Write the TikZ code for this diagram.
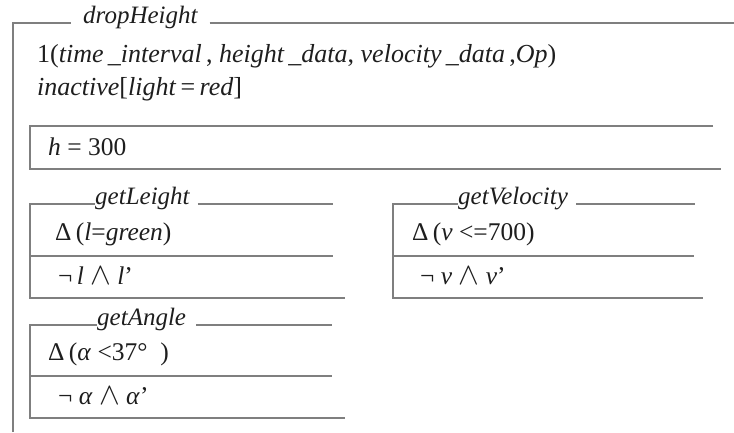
\documentclass[tikz,border=0pt]{standalone}
\usepackage{fontspec}
\setmainfont{Liberation Serif}
\definecolor{linegray}{HTML}{7F7F7F}
\definecolor{ink}{HTML}{1E1E1E}
\newcommand{\andsym}{\ \scalebox{1.25}{$\wedge$}\ }
\begin{document}
\begin{tikzpicture}[x=1pt,y=-1pt,
  rule/.style={draw=linegray, line width=1.4pt},
  txt/.style={anchor=base west, inner sep=0pt, text=ink, font=\fontsize{25.5}{30}\selectfont},
  bigtxt/.style={txt, font=\fontsize{26}{30}\selectfont},
  ttl/.style={txt, font=\fontsize{25}{30}\selectfont\itshape}]
\useasboundingbox (0,0) rectangle (734,432);
\fill[white] (0,0) rectangle (734,432);
% outer schema
\coordinate (oTL) at (13,23);
\coordinate (oBL) at (13,432);
\coordinate (oTR) at (734,23);
\node[ttl] (tD) at (83,23) {dropHeight};
\draw[rule] (oBL) -- (oTL) -- ([xshift=-12pt]tD.base west);
\draw[rule] ([xshift=12pt]tD.base east) -- (oTR);
\node[bigtxt] (p1) at (37,62) {1(\textit{time\,\_interval}\,, \textit{height\,\_data}, \textit{velocity\,\_data}\,,\textit{Op})};
\node[bigtxt] (p2) at (37,95) {\textit{inactive}[\textit{light}\,=\,\textit{red}]};
% h box
\coordinate (hTL) at (30,126);
\coordinate (hTR) at (713,126);
\coordinate (hBL) at (30,169);
\coordinate (hBR) at (721,169);
\draw[rule] (hTR) -- (hTL) -- (hBL) -- (hBR);
\node[txt] (h) at (48,155) {\textit{h} = 300};
% getLeight
\node[ttl] (tL) at (95,204) {getLeight};
\coordinate (L1) at (30,204);
\coordinate (L2) at (333,204);
\coordinate (L3) at (30,256);
\coordinate (L4) at (333,256);
\coordinate (L5) at (30,298);
\coordinate (L6) at (345,298);
\draw[rule] (tL.base west) -- (L1) -- (L5) -- (L6);
\draw[rule] ([xshift=8pt]tL.base east) -- (L2);
\draw[rule] (L3) -- (L4);
\node[txt] (dL) at (55,240) {Δ\,(\textit{l}=\textit{green})};
\node[txt] (nL) at (58,284) {¬\,\textit{l}\andsym\textit{l}’};
% getVelocity
\node[ttl] (tV) at (458,204) {getVelocity};
\coordinate (V1) at (393,204);
\coordinate (V2) at (695,204);
\coordinate (V3) at (393,256);
\coordinate (V4) at (694,256);
\coordinate (V5) at (393,298);
\coordinate (V6) at (703,298);
\draw[rule] (tV.base west) -- (V1) -- (V5) -- (V6);
\draw[rule] ([xshift=8pt]tV.base east) -- (V2);
\draw[rule] (V3) -- (V4);
\node[txt] (dV) at (412,240) {Δ\,(\textit{v} <=700)};
\node[txt] (nV) at (420,284) {¬\ \textit{v}\andsym\textit{v}’};
% getAngle
\node[ttl] (tA) at (97,325) {getAngle};
\coordinate (A1) at (30,325);
\coordinate (A2) at (332,325);
\coordinate (A3) at (30,376);
\coordinate (A4) at (332,376);
\coordinate (A5) at (30,418);
\coordinate (A6) at (345,418);
\draw[rule] (tA.base west) -- (A1) -- (A5) -- (A6);
\draw[rule] ([xshift=10pt]tA.base east) -- (A2);
\draw[rule] (A3) -- (A4);
\node[txt] (dA) at (48,360) {Δ\,(\textit{α} <37°\ \ )};
\node[txt] (nA) at (58,404) {¬\ \textit{α}\andsym\textit{α}’};
\end{tikzpicture}
\end{document}
